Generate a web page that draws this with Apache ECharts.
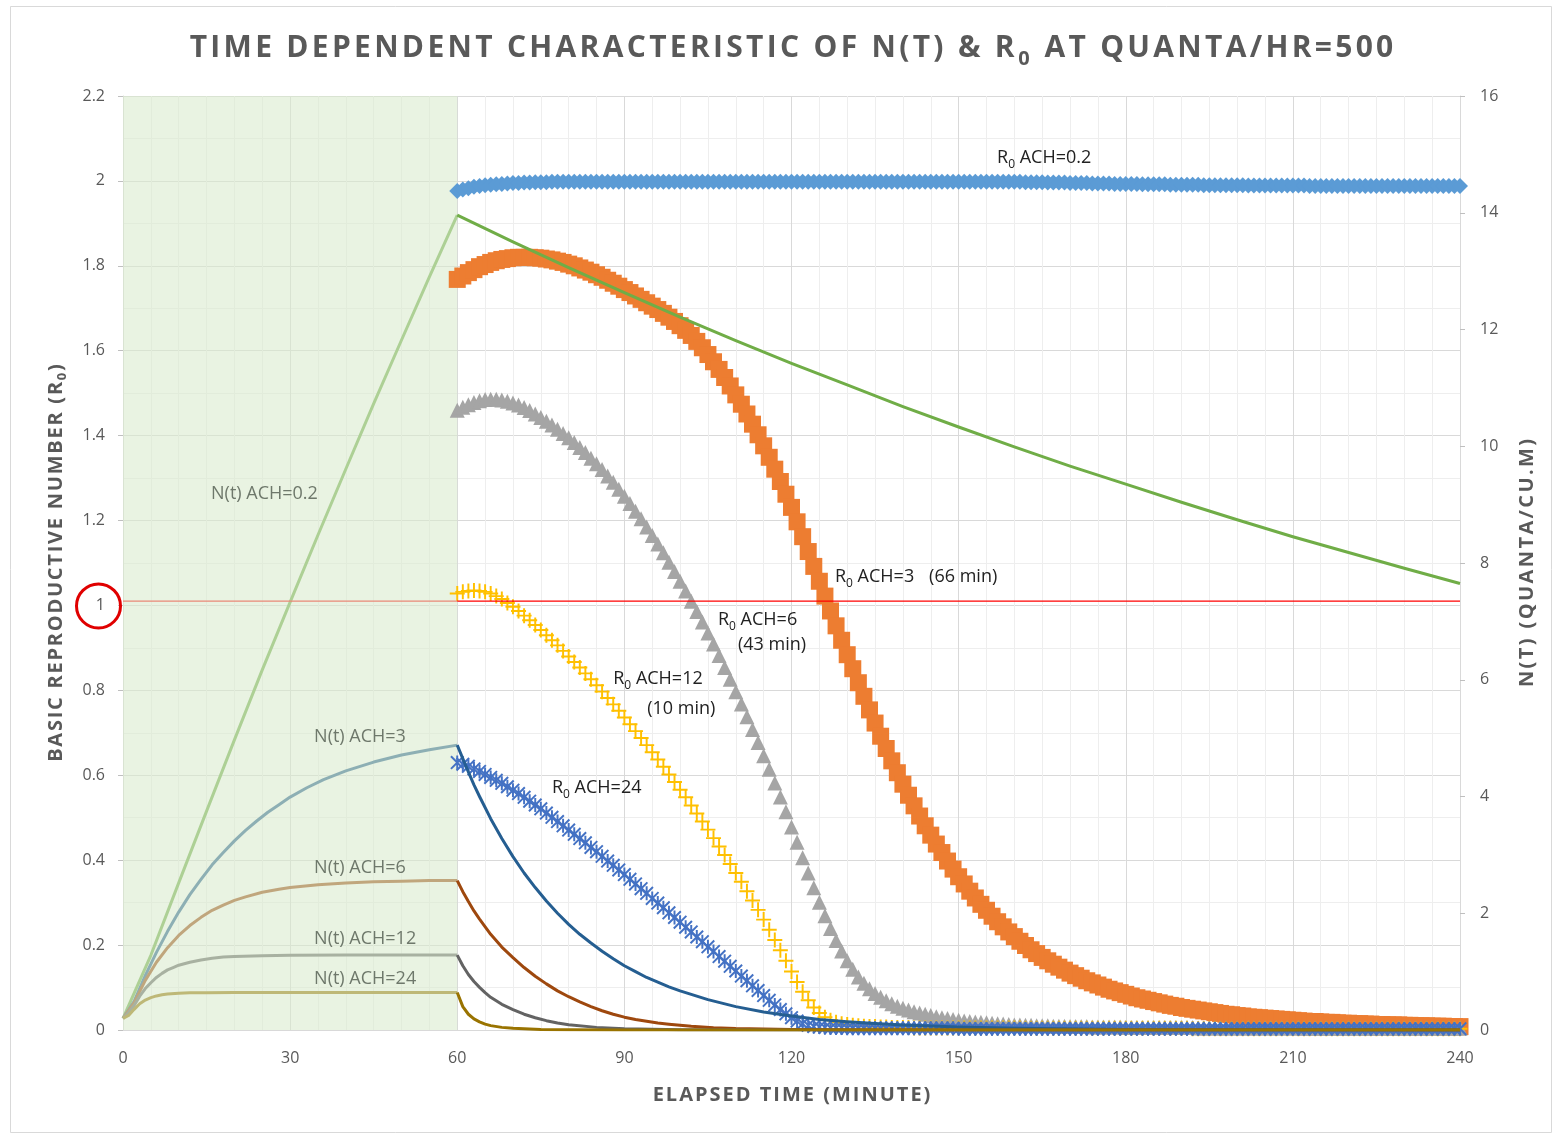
<!DOCTYPE html>
<html><head><meta charset="utf-8">
<script src="https://cdn.jsdelivr.net/npm/echarts@6/dist/echarts.min.js"></script>
<style>html,body{margin:0;padding:0;background:#fff}#c{width:1555px;height:1135px}</style>
</head><body><div id="c"></div>
<script>
// ---------- DATA ----------
const minutes = [
60,61,62,63,64,65,66,67,68,69,70,71,72,73,74,75,76,77,78,79,
80,81,82,83,84,85,86,87,88,89,90,91,92,93,94,95,96,97,98,99,
100,101,102,103,104,105,106,107,108,109,110,111,112,113,114,115,116,117,118,119,
120,121,122,123,124,125,126,127,128,129,130,131,132,133,134,135,136,137,138,139,
140,141,142,143,144,145,146,147,148,149,150,151,152,153,154,155,156,157,158,159,
160,161,162,163,164,165,166,167,168,169,170,171,172,173,174,175,176,177,178,179,
180,181,182,183,184,185,186,187,188,189,190,191,192,193,194,195,196,197,198,199,
200,201,202,203,204,205,206,207,208,209,210,211,212,213,214,215,216,217,218,219,
220,221,222,223,224,225,226,227,228,229,230,231,232,233,234,235,236,237,238,239,240];

const r0Ach02 = [
1.976,1.980,1.983,1.986,1.988,1.990,1.991,1.992,1.993,1.994,
1.995,1.995,1.996,1.996,1.997,1.997,1.997,1.998,1.998,1.998,
1.998,1.998,1.998,1.998,1.998,1.998,1.998,1.998,1.998,1.998,
1.998,1.998,1.998,1.998,1.998,1.998,1.998,1.998,1.998,1.998,
1.998,1.998,1.998,1.998,1.998,1.998,1.998,1.998,1.998,1.998,
1.998,1.998,1.998,1.998,1.998,1.998,1.998,1.998,1.998,1.998,
1.998,1.998,1.998,1.998,1.998,1.998,1.998,1.998,1.998,1.998,
1.998,1.998,1.998,1.998,1.998,1.998,1.998,1.998,1.998,1.998,
1.998,1.998,1.998,1.998,1.998,1.998,1.998,1.998,1.998,1.998,
1.998,1.998,1.998,1.998,1.998,1.998,1.998,1.998,1.998,1.998,
1.998,1.998,1.997,1.997,1.997,1.997,1.996,1.996,1.996,1.996,
1.995,1.995,1.995,1.995,1.994,1.994,1.994,1.994,1.993,1.993,
1.993,1.993,1.993,1.992,1.992,1.992,1.992,1.992,1.991,1.991,
1.991,1.991,1.991,1.991,1.990,1.990,1.990,1.990,1.990,1.990,
1.990,1.990,1.989,1.989,1.989,1.989,1.989,1.989,1.989,1.989,
1.989,1.989,1.989,1.988,1.988,1.988,1.988,1.988,1.988,1.988,
1.988,1.988,1.988,1.988,1.988,1.988,1.988,1.988,1.988,1.988,
1.988,1.988,1.988,1.988,1.988,1.988,1.988,1.988,1.988,1.988,1.988];

const r0Ach3 = [
1.768,1.776,1.784,1.791,1.798,1.803,1.808,1.812,1.815,1.817,
1.819,1.820,1.820,1.820,1.819,1.818,1.816,1.814,1.811,1.808,
1.804,1.800,1.795,1.790,1.785,1.779,1.773,1.766,1.759,1.752,
1.744,1.737,1.729,1.721,1.713,1.705,1.697,1.688,1.679,1.669,
1.659,1.648,1.636,1.622,1.607,1.591,1.574,1.556,1.537,1.517,
1.496,1.474,1.451,1.427,1.402,1.376,1.349,1.321,1.292,1.262,
1.231,1.197,1.162,1.127,1.092,1.057,1.022,0.987,0.952,0.918,
0.884,0.851,0.818,0.786,0.754,0.723,0.692,0.663,0.634,0.606,
0.579,0.553,0.528,0.504,0.481,0.459,0.438,0.418,0.398,0.379,
0.361,0.344,0.327,0.311,0.296,0.282,0.268,0.255,0.243,0.231,
0.220,0.209,0.199,0.189,0.180,0.171,0.163,0.155,0.148,0.141,
0.134,0.128,0.122,0.116,0.111,0.106,0.101,0.096,0.092,0.088,
0.084,0.080,0.076,0.073,0.070,0.067,0.064,0.061,0.058,0.056,
0.053,0.051,0.049,0.047,0.045,0.043,0.041,0.039,0.037,0.036,
0.034,0.033,0.031,0.030,0.029,0.028,0.027,0.026,0.025,0.024,
0.023,0.022,0.021,0.020,0.020,0.019,0.018,0.018,0.017,0.016,
0.016,0.015,0.015,0.014,0.014,0.013,0.013,0.012,0.012,0.012,
0.011,0.011,0.010,0.010,0.010,0.009,0.009,0.009,0.008,0.008,0.008];

const r0Ach6 = [
1.460,1.467,1.473,1.478,1.482,1.485,1.486,1.486,1.484,1.481,
1.477,1.472,1.466,1.459,1.451,1.443,1.434,1.425,1.415,1.405,
1.395,1.384,1.372,1.360,1.347,1.334,1.320,1.305,1.290,1.274,
1.257,1.240,1.222,1.204,1.185,1.165,1.145,1.124,1.102,1.080,
1.057,1.034,1.010,0.986,0.961,0.935,0.909,0.882,0.854,0.826,
0.797,0.768,0.738,0.708,0.677,0.646,0.614,0.582,0.549,0.514,
0.478,0.442,0.406,0.370,0.335,0.301,0.269,0.239,0.211,0.186,
0.163,0.143,0.125,0.110,0.097,0.086,0.077,0.069,0.062,0.056,
0.051,0.047,0.043,0.040,0.037,0.034,0.031,0.029,0.027,0.025,
0.023,0.021,0.020,0.019,0.018,0.017,0.016,0.015,0.014,0.013,
0.012,0.012,0.011,0.011,0.010,0.010,0.010,0.009,0.009,0.009,
0.008,0.008,0.008,0.008,0.007,0.007,0.007,0.007,0.007,0.007,
0.006,0.006,0.006,0.006,0.006,0.006,0.006,0.006,0.006,0.006,
0.006,0.006,0.006,0.005,0.005,0.005,0.005,0.005,0.005,0.005,
0.005,0.005,0.005,0.005,0.005,0.005,0.005,0.005,0.005,0.005,
0.005,0.005,0.004,0.004,0.004,0.004,0.004,0.004,0.004,0.004,
0.004,0.004,0.004,0.004,0.004,0.004,0.004,0.004,0.004,0.004,
0.004,0.004,0.004,0.004,0.004,0.004,0.004,0.004,0.004,0.004,0.004];

const r0Ach12 = [
1.028,1.032,1.034,1.035,1.034,1.032,1.028,1.022,1.015,1.006,
0.997,0.987,0.976,0.965,0.954,0.942,0.930,0.918,0.906,0.893,
0.880,0.867,0.854,0.840,0.826,0.812,0.797,0.782,0.767,0.752,
0.736,0.720,0.704,0.688,0.671,0.654,0.637,0.620,0.602,0.584,
0.566,0.548,0.529,0.510,0.491,0.472,0.452,0.432,0.412,0.391,
0.370,0.349,0.327,0.305,0.283,0.260,0.236,0.212,0.188,0.163,
0.138,0.113,0.090,0.070,0.053,0.040,0.030,0.023,0.018,0.015,
0.013,0.011,0.010,0.009,0.008,0.008,0.007,0.007,0.006,0.006,
0.006,0.006,0.005,0.005,0.005,0.005,0.005,0.005,0.005,0.005,
0.005,0.005,0.005,0.005,0.005,0.005,0.005,0.005,0.005,0.005,
0.005,0.005,0.004,0.004,0.004,0.004,0.004,0.004,0.004,0.004,
0.004,0.004,0.004,0.004,0.004,0.004,0.004,0.004,0.004,0.004,
0.004,0.004,0.004,0.004,0.004,0.004,0.004,0.004,0.004,0.004,
0.004,0.004,0.003,0.003,0.003,0.003,0.003,0.003,0.003,0.003,
0.003,0.003,0.003,0.003,0.003,0.003,0.003,0.003,0.003,0.003,
0.003,0.003,0.003,0.003,0.003,0.003,0.003,0.003,0.003,0.003,
0.003,0.003,0.003,0.003,0.003,0.003,0.003,0.003,0.003,0.003,
0.003,0.003,0.003,0.003,0.003,0.003,0.003,0.003,0.003,0.003,0.003];

const r0Ach24 = [
0.630,0.626,0.621,0.615,0.609,0.602,0.595,0.588,0.581,0.573,
0.565,0.557,0.548,0.539,0.530,0.521,0.511,0.501,0.491,0.481,
0.471,0.461,0.451,0.441,0.430,0.420,0.409,0.398,0.388,0.377,
0.366,0.355,0.344,0.333,0.322,0.310,0.299,0.288,0.276,0.265,
0.254,0.242,0.231,0.219,0.208,0.196,0.185,0.173,0.162,0.150,
0.139,0.127,0.116,0.104,0.093,0.081,0.070,0.059,0.048,0.038,
0.029,0.021,0.015,0.011,0.008,0.007,0.006,0.005,0.005,0.005,
0.004,0.004,0.004,0.004,0.004,0.004,0.004,0.004,0.004,0.004,
0.004,0.004,0.004,0.004,0.004,0.004,0.004,0.004,0.004,0.004,
0.003,0.003,0.003,0.003,0.003,0.003,0.003,0.003,0.003,0.003,
0.003,0.003,0.003,0.003,0.003,0.003,0.003,0.003,0.003,0.003,
0.003,0.003,0.003,0.003,0.003,0.003,0.003,0.003,0.003,0.003,
0.003,0.003,0.003,0.003,0.003,0.003,0.003,0.003,0.003,0.003,
0.003,0.003,0.003,0.003,0.003,0.003,0.003,0.003,0.003,0.003,
0.003,0.003,0.003,0.003,0.003,0.003,0.003,0.003,0.003,0.003,
0.003,0.003,0.003,0.003,0.003,0.003,0.003,0.003,0.003,0.003,
0.003,0.003,0.003,0.003,0.003,0.003,0.003,0.003,0.003,0.003,
0.003,0.003,0.003,0.003,0.003,0.003,0.003,0.003,0.003,0.003,0.003];

// N(t) concentration (right axis): [minute, quanta/m3]
const ntAch02 = [[0,0.2],[5,1.28],[10,2.52],[15,3.75],[20,4.97],[25,6.17],[30,7.33],[35,8.48],[40,9.61],[45,10.73],[50,11.82],[55,12.90],[60,13.96],
 [70,13.50],[80,13.06],[90,12.63],[100,12.21],[110,11.81],[120,11.42],[130,11.05],[140,10.68],[150,10.33],[160,9.99],[170,9.66],[180,9.35],[190,9.04],[200,8.74],[210,8.45],[220,8.18],[230,7.91],[240,7.65]];
const ntAch3 = [[0,0.2],[2,0.49],[4,0.93],[6,1.33],[8,1.69],[10,2.02],[12,2.32],[14,2.58],[16,2.83],[18,3.04],[20,3.24],[22,3.42],[24,3.58],[26,3.73],[28,3.86],[30,3.99],[33,4.15],[36,4.29],[40,4.44],[45,4.59],[50,4.71],[55,4.80],[60,4.88],
 [61,4.65],[62,4.42],[63,4.20],[64,4.00],[66,3.62],[68,3.28],[70,2.97],[72,2.69],[74,2.44],[76,2.21],[78,2.00],[80,1.81],[82,1.64],[84,1.49],[86,1.35],[88,1.22],[90,1.10],[92,1.00],[94,0.90],[96,0.82],[98,0.74],[100,0.67],[105,0.52],[110,0.40],[115,0.31],[120,0.24],[125,0.18],[130,0.14],[135,0.11],[140,0.085],[150,0.05],[160,0.03],[180,0.01],[200,0.004],[240,0.001]];
const ntAch6 = [[0,0.2],[2,0.47],[4,0.85],[6,1.16],[8,1.41],[10,1.62],[12,1.79],[14,1.93],[16,2.05],[18,2.14],[20,2.22],[22,2.28],[25,2.36],[28,2.41],[30,2.44],[35,2.49],[40,2.52],[45,2.54],[50,2.55],[55,2.56],[60,2.56],
 [61,2.37],[62,2.20],[63,2.04],[64,1.90],[66,1.64],[68,1.42],[70,1.24],[72,1.07],[74,0.92],[76,0.79],[78,0.67],[80,0.57],[82,0.48],[84,0.40],[86,0.33],[88,0.27],[90,0.22],[92,0.18],[94,0.15],[96,0.12],[98,0.10],[102,0.065],[106,0.04],[110,0.025],[120,0.01],[130,0.004],[150,0.001],[240,0]];
const ntAch12 = [[0,0.2],[1,0.30],[2,0.42],[3,0.58],[4,0.71],[5,0.81],[6,0.90],[7,0.97],[8,1.03],[9,1.07],[10,1.11],[12,1.16],[14,1.20],[16,1.23],[18,1.25],[20,1.26],[25,1.27],[30,1.28],[40,1.283],[60,1.283],
 [61,1.10],[62,0.95],[63,0.83],[64,0.73],[65,0.64],[66,0.56],[67,0.50],[68,0.44],[70,0.35],[72,0.27],[74,0.21],[76,0.16],[78,0.12],[80,0.09],[85,0.045],[90,0.02],[100,0.005],[120,0.001],[240,0]];
const ntAch24 = [[0,0.2],[1,0.25],[2,0.354],[3,0.449],[4,0.513],[5,0.555],[6,0.584],[7,0.603],[8,0.616],[10,0.630],[12,0.636],[15,0.640],[20,0.642],[60,0.642],
 [61,0.40],[62,0.27],[63,0.19],[64,0.14],[65,0.10],[66,0.075],[68,0.045],[70,0.028],[75,0.01],[80,0.004],[90,0.001],[240,0]];

const thresholdLine = [[0,1.01],[240,1.01]];
const shadedMinutes = [0, 60];

const xTicks = {min:0, max:240, interval:30};
const leftTicks = {min:0, max:2.2, interval:0.2};
const rightTicks = {min:0, max:16, interval:2};

// ---------- STYLE ----------
const FONT = 'Open Sans';
const GRAY = '#595959';
const pair = (arr) => minutes.map((t,i)=>[t, arr[i]]);
const SPLIT = shadedMinutes[1];
const before = (d) => d.filter(p => p[0] <= SPLIT);
const after = (d) => d.filter(p => p[0] >= SPLIT);

const plusPath = 'path://M8.7,0H11.3V20H8.7Z M0,8.7H20V11.3H0Z';
const starPath = 'path://M8.6,0H11.4V20H8.6Z M0,2L2,0L20,18L18,20Z M18,0L20,2L2,20L0,18Z';

function scatter(name, data, symbol, size, color){
  return {name, type:'scatter', data:pair(data), symbol, symbolSize:size, z:3,
    itemStyle:{color, opacity:1}, silent:true};
}
function nline(name, data, color, axis, width){
  return {name, type:'line', data, yAxisIndex:axis, showSymbol:false, symbol:'none', smooth:false,
    lineStyle:{color, width, join:'round'}, z:4, silent:true};
}
// each N(t) curve: tinted colour inside the shaded first hour, full colour after it
function ntPair(name, data, tint, col){
  return [nline(name, before(data), tint, 1, 3), nline(name, after(data), col, 1, 3)];
}

const spaced = (s, st) => s.split('').map(ch => '{' + st + '|' + ch + '}').join('');
const titleText = spaced('TIME DEPENDENT CHARACTERISTIC OF N(T) & R', 'c') + '{s|0}' + spaced(' AT QUANTA/HR=500', 'c');
const leftName = spaced('BASIC REPRODUCTIVE NUMBER (R', 'n') + '{s|0}' + spaced(')', 'n');
const rightName = spaced('N(T) (QUANTA/CU.M)', 'n');
const bottomName = spaced('ELAPSED TIME (MINUTE)', 'n');

const nameStyle = (pad) => ({
  rich:{
    n:{fontFamily:FONT, fontWeight:'bold', fontSize:20, color:GRAY, lineHeight:26, padding:[0,pad,0,pad]},
    s:{fontFamily:FONT, fontWeight:'bold', fontSize:13, color:GRAY, lineHeight:13, verticalAlign:'bottom', padding:[0,pad,0,pad]}
  }
});

const chart = echarts.init(document.getElementById('c'), null, {renderer:'canvas'});
const option = {
  animation:false,
  backgroundColor:'#ffffff',
  title:{
    text:titleText, left:183, top:22,
    textStyle:{ rich:{
      c:{fontFamily:FONT, fontWeight:'bold', fontSize:30, color:GRAY, lineHeight:42, padding:[0,1.65,0,1.65]},
      s:{fontFamily:FONT, fontWeight:'bold', fontSize:20, color:GRAY, lineHeight:20, verticalAlign:'bottom', padding:[0,2,0,2]}
    }}
  },
  grid:{left:123, right:95, top:96, bottom:105},
  xAxis:{
    type:'value', min:xTicks.min, max:xTicks.max, interval:xTicks.interval,
    name:bottomName, nameLocation:'middle', nameGap:52,
    nameTextStyle:nameStyle(1.0),
    axisLine:{show:true, lineStyle:{color:'#d9d9d9', width:1}},
    axisTick:{show:false},
    axisLabel:{color:GRAY, fontFamily:FONT, fontSize:16, margin:20},
    splitLine:{show:true, lineStyle:{color:'#d9d9d9', width:1}},
    minorTick:{show:false, splitNumber:6},
    minorSplitLine:{show:true, lineStyle:{color:'#eeeeee', width:1}}
  },
  yAxis:[{
    type:'value', min:leftTicks.min, max:leftTicks.max, interval:leftTicks.interval, position:'left',
    name:leftName, nameLocation:'middle', nameGap:54,
    nameTextStyle:nameStyle(0.88),
    axisLine:{show:true, lineStyle:{color:'#d9d9d9'}},
    axisTick:{show:true, length:5, lineStyle:{color:'#bfbfbf'}},
    axisLabel:{color:GRAY, fontFamily:FONT, fontSize:16, margin:18},
    splitLine:{show:true, lineStyle:{color:'#d9d9d9', width:1}},
    minorTick:{show:false, splitNumber:2},
    minorSplitLine:{show:true, lineStyle:{color:'#eeeeee', width:1}}
  },{
    type:'value', min:rightTicks.min, max:rightTicks.max, interval:rightTicks.interval, position:'right',
    name:rightName, nameLocation:'middle', nameGap:54, nameRotate:90,
    nameTextStyle:nameStyle(1.2),
    axisLine:{show:true, lineStyle:{color:'#d9d9d9'}},
    axisTick:{show:true, length:5, lineStyle:{color:'#bfbfbf'}},
    axisLabel:{color:GRAY, fontFamily:FONT, fontSize:16, margin:20},
    splitLine:{show:false}
  }],
  series:[
    {name:'shade', type:'line', data:[], z:1, silent:true,
     markArea:{silent:true, z:1, itemStyle:{color:'rgba(217,234,205,0.58)'}, label:{show:false},
       data:[[{xAxis:shadedMinutes[0]},{xAxis:shadedMinutes[1]}]]}},
    scatter('R0 ACH=0.2', r0Ach02, 'diamond', 16, '#5b9bd5'),
    scatter('R0 ACH=3', r0Ach3, 'rect', 17, '#ed7d31'),
    scatter('R0 ACH=6', r0Ach6, 'triangle', 15, '#a5a5a5'),
    scatter('R0 ACH=12', r0Ach12, plusPath, 15, '#ffc000'),
    scatter('R0 ACH=24', r0Ach24, starPath, 14, '#4472c4'),
    ...ntPair('N(t) ACH=0.2', ntAch02, '#add095', '#70ad47'),
    ...ntPair('N(t) ACH=3', ntAch3, '#8dafb4', '#255e91'),
    ...ntPair('N(t) ACH=6', ntAch6, '#c0a67d', '#9e480e'),
    ...ntPair('N(t) ACH=12', ntAch12, '#a8b1a1', '#636363'),
    ...ntPair('N(t) ACH=24', ntAch24, '#beb877', '#997300'),
    nline('threshold', [thresholdLine[0], [SPLIT, thresholdLine[0][1]]], '#e98877', 0, 1.2),
    nline('threshold', [[SPLIT, thresholdLine[1][1]], thresholdLine[1]], '#ff0000', 0, 1.2)
  ]
};
chart.setOption(option);

// ---------- ANNOTATIONS (placed via the chart's own scales) ----------
const r0Notes = [
  {t:156.9, v:2.054, r:true, text:' ACH=0.2'},
  {t:127.8, v:1.067, r:true, text:' ACH=3'},
  {t:144.7, v:1.067, r:false, text:'(66 min)'},
  {t:106.8, v:0.966, r:true, text:' ACH=6'},
  {t:110.4, v:0.907, r:false, text:'(43 min)'},
  {t:88.0, v:0.827, r:true, text:' ACH=12'},
  {t:94.1, v:0.756, r:false, text:'(10 min)'},
  {t:77.0, v:0.570, r:true, text:' ACH=24'}
];
const ntNotes = [
  {t:15.8, v:1.263, text:'N(t) ACH=0.2'},
  {t:34.3, v:0.690, text:'N(t) ACH=3'},
  {t:34.3, v:0.382, text:'N(t) ACH=6'},
  {t:34.3, v:0.214, text:'N(t) ACH=12'},
  {t:34.3, v:0.120, text:'N(t) ACH=24'}
];
const toPx = (t,v) => chart.convertToPixel({xAxisIndex:0, yAxisIndex:0}, [t,v]);
const graphics = [];
r0Notes.forEach(n => {
  const p = toPx(n.t, n.v);
  graphics.push({type:'text', x:p[0], y:p[1], z:100, silent:true, style:{
    text: n.r ? '{a|R}{s|0}{a|' + n.text + '}' : '{a|' + n.text + '}',
    align:'left', verticalAlign:'middle',
    rich:{a:{fontFamily:FONT, fontSize:18, fill:'#222222', lineHeight:26},
          s:{fontFamily:FONT, fontSize:12, fill:'#222222', lineHeight:12, verticalAlign:'bottom'}}
  }});
});
ntNotes.forEach(n => {
  const p = toPx(n.t, n.v);
  graphics.push({type:'text', x:p[0], y:p[1], z:100, silent:true, style:{
    text:n.text, align:'left', verticalAlign:'middle', fontFamily:FONT, fontSize:18, fill:'#6e786b'
  }});
});
const one = toPx(0, 1);
graphics.push({type:'circle', z:100, silent:true, shape:{cx:one[0]-24.5, cy:one[1]+0.5, r:22},
  style:{fill:'none', stroke:'#e00000', lineWidth:3}});
graphics.push({type:'rect', z:0, silent:true, shape:{x:10.5, y:6.5, width:1541, height:1126},
  style:{fill:'none', stroke:'#d9d9d9', lineWidth:1}});
chart.setOption({graphic:graphics});
</script>
</body></html>
